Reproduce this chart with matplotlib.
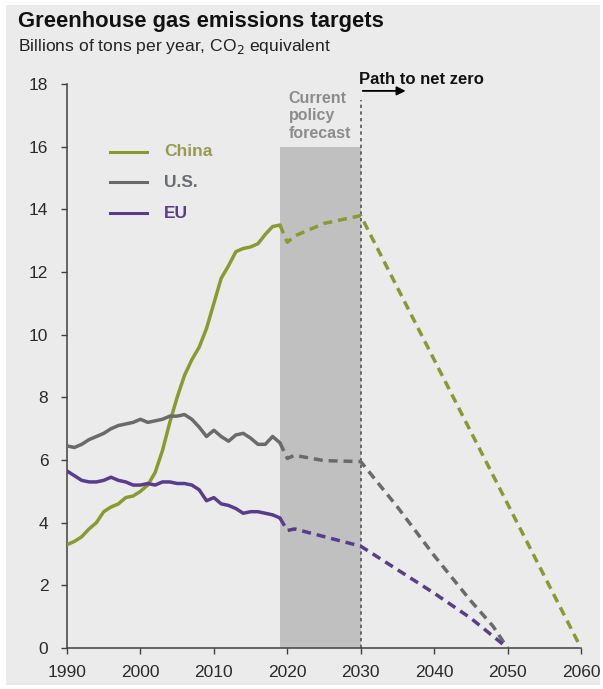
import matplotlib
matplotlib.use("Agg")
import matplotlib.pyplot as plt
from matplotlib.patches import Rectangle

plt.rcParams["font.family"] = ["Liberation Sans", "DejaVu Sans"]

# historical emissions, 1990-2019 (bn tons CO2e)
hist_years = list(range(1990, 2020))
china_hist = [3.3, 3.4, 3.55, 3.8, 4.0, 4.35, 4.5, 4.6, 4.8, 4.85, 5.0, 5.2, 5.6, 6.3, 7.2,
              8.0, 8.7, 9.2, 9.6, 10.2, 11.0, 11.8, 12.2, 12.65, 12.75, 12.8, 12.9, 13.2, 13.45, 13.5]
us_hist = [6.45, 6.4, 6.5, 6.65, 6.75, 6.85, 7.0, 7.1, 7.15, 7.2, 7.3, 7.2, 7.25, 7.3, 7.4,
           7.4, 7.45, 7.3, 7.05, 6.75, 6.95, 6.75, 6.6, 6.8, 6.85, 6.7, 6.5, 6.5, 6.75, 6.55]
eu_hist = [5.65, 5.5, 5.35, 5.3, 5.3, 5.35, 5.45, 5.35, 5.3, 5.2, 5.2, 5.25, 5.2, 5.3, 5.3,
           5.25, 5.25, 5.2, 5.05, 4.7, 4.8, 4.6, 4.55, 4.45, 4.3, 4.35, 4.35, 4.3, 4.25, 4.15]

# current policy forecast to 2030, then path to net zero
china_proj_years = [2019, 2020, 2021, 2025, 2030, 2060]
china_proj = [13.5, 12.95, 13.15, 13.55, 13.8, 0.0]
us_proj_years = [2019, 2020, 2021, 2025, 2030, 2035, 2040, 2045, 2048, 2050]
us_proj = [6.55, 6.05, 6.15, 5.98, 5.95, 4.5, 2.95, 1.5, 0.7, 0.0]
eu_proj_years = [2019, 2020, 2021, 2030, 2040, 2045, 2050]
eu_proj = [4.15, 3.75, 3.8, 3.25, 1.75, 0.95, 0.0]

series = ["China", "U.S.", "EU"]
colors = {"China": "#8a9a30", "U.S.": "#6a6a6a", "EU": "#5a3c8e"}
text_colors = {"China": "#979a4f", "U.S.": "#686d74", "EU": "#5a3c8e"}

x_ticks = list(range(1990, 2061, 10))
y_ticks = list(range(0, 19, 2))

fig = plt.figure(figsize=(6.03, 6.89), dpi=100, facecolor="white")
fig.patches.append(Rectangle((6 / 603, 4 / 689), 594 / 603, 680 / 689,
                             transform=fig.transFigure, facecolor="#ebebeb",
                             edgecolor="none", zorder=-10))

ax = fig.add_axes([67 / 603, 41 / 689, 514 / 603, 564 / 689])
ax.set_facecolor("none")

# forecast window and the 2030 divider
ax.axvspan(2019, 2030, ymin=0, ymax=16 / 18, color="#c0c0c0", lw=0, zorder=1)
ax.plot([2030, 2030], [0, 17.5], color="#555555", lw=1.2, ls=(0, (2, 2)),
        zorder=2, clip_on=False)

lw = 2.5
hist = {"China": china_hist, "U.S.": us_hist, "EU": eu_hist}
proj = {"China": (china_proj_years, china_proj),
        "U.S.": (us_proj_years, us_proj),
        "EU": (eu_proj_years, eu_proj)}
for name in series:
    ax.plot(hist_years, hist[name], color=colors[name], lw=lw, zorder=3,
            solid_capstyle="round")
    px, py = proj[name]
    ax.plot(px, py, color=colors[name], lw=lw, ls=(0, (2.6, 1.7)), zorder=3)

# legend drawn by hand: short line + coloured label
legend_y = [15.83, 14.87, 13.88]
for name, ly in zip(series, legend_y):
    ax.plot([1995.9, 2000.9], [ly, ly], color=colors[name], lw=2.2, clip_on=False)
    ax.text(2003.2, ly, name, color=text_colors[name], fontsize=12.5,
            fontweight="bold", va="center", ha="left")

ax.text(2020.2, 17.78, "Current\npolicy\nforecast", color="#8c8c8c", fontsize=11.5,
        fontweight="bold", va="top", ha="left", linespacing=1.2)
ax.text(2029.8, 18.15, "Path to net zero", color="#111111", fontsize=12,
        fontweight="bold", va="center", ha="left", clip_on=False)
ax.annotate("", xy=(2036.5, 17.78), xytext=(2029.9, 17.78),
            arrowprops=dict(arrowstyle="-|>", color="black", lw=1.3,
                            mutation_scale=13), annotation_clip=False)

ax.set_xlim(1990, 2060)
ax.set_ylim(0, 18)
ax.set_xticks(x_ticks)
ax.set_yticks(y_ticks)
ax.tick_params(axis="both", labelsize=12.5, color="#404040", labelcolor="#2a2a2a",
               length=4.5, width=1)
ax.tick_params(axis="y", pad=9)
ax.tick_params(axis="x", pad=8)
for side in ["top", "right"]:
    ax.spines[side].set_visible(False)
for side in ["left", "bottom"]:
    ax.spines[side].set_color("#404040")
    ax.spines[side].set_linewidth(1.1)

fig.text(18 / 603, 1 - 22 / 689, "Greenhouse gas emissions targets", fontsize=15.8,
         fontweight="bold", va="center", ha="left", color="#111111")
fig.text(18 / 603, 1 - 46 / 689, "Billions of tons per year, CO$_2$ equivalent",
         fontsize=12.6, va="center", ha="left", color="#222222")

fig.savefig("out.png", dpi=100, facecolor=fig.get_facecolor())
